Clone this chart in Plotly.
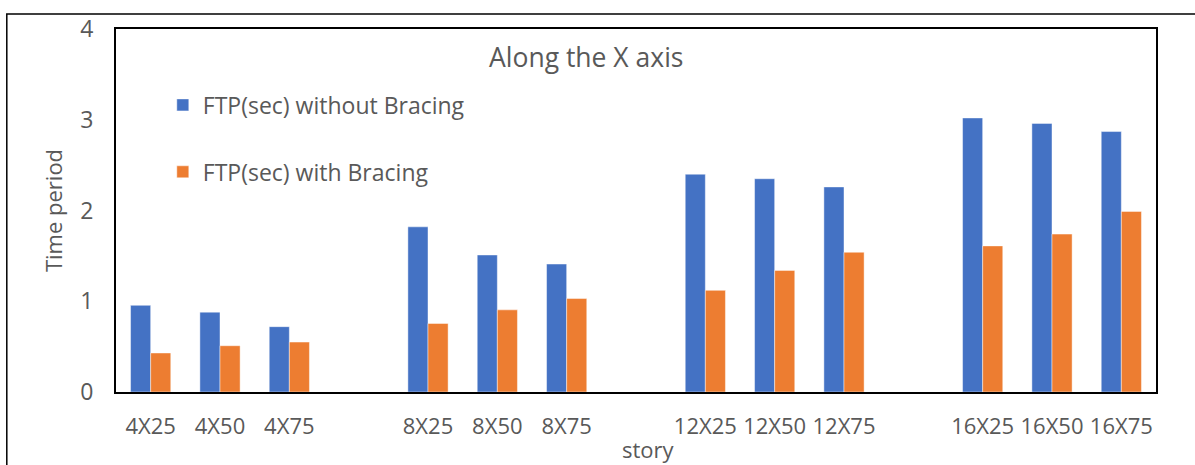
import plotly.graph_objects as go

# Fundamental time period (sec) for each building model
stories = ["4X25", "4X50", "4X75",
           "8X25", "8X50", "8X75",
           "12X25", "12X50", "12X75",
           "16X25", "16X50", "16X75"]
ftp_without = [0.955, 0.88, 0.72, 1.82, 1.51, 1.41, 2.40, 2.35, 2.26, 3.02, 2.96, 2.87]
ftp_with = [0.43, 0.51, 0.55, 0.755, 0.905, 1.03, 1.12, 1.34, 1.54, 1.61, 1.74, 1.99]

# Insert an empty slot between each group of three models
x_cats, y_without, y_with = [], [], []
for i, (s, a, b) in enumerate(zip(stories, ftp_without, ftp_with)):
    if i > 0 and i % 3 == 0:
        gap = " " * (i // 3)
        x_cats.append(gap)
        y_without.append(None)
        y_with.append(None)
    x_cats.append(s)
    y_without.append(a)
    y_with.append(b)

FONT = "Open Sans"
GREY = "#595959"

fig = go.Figure()
fig.add_trace(go.Bar(
    x=x_cats, y=y_without, name="FTP(sec) without Bracing",
    marker=dict(color="#4472C4", line=dict(color="rgba(255,255,255,0.45)", width=1)),
    legendgroup="a",
))
fig.add_trace(go.Bar(
    x=x_cats, y=y_with, name="FTP(sec) with Bracing",
    marker=dict(color="#ED7D31", line=dict(color="rgba(255,255,255,0.45)", width=1)),
    legendgroup="b",
))

fig.update_layout(
    width=1195, height=465,
    margin=dict(l=116, r=39, t=27, b=73),
    paper_bgcolor="white", plot_bgcolor="white",
    barmode="group", bargap=0.42, bargroupgap=0,
    font=dict(family=FONT, color=GREY, size=22),
    showlegend=True,
    legend=dict(
        x=0.045, y=0.85, xanchor="left", yanchor="top",
        bgcolor="rgba(0,0,0,0)", font=dict(size=23, color=GREY),
        tracegroupgap=34, itemwidth=30,
    ),
    xaxis=dict(
        type="category", categoryorder="array", categoryarray=x_cats,
        showline=True, linecolor="black", linewidth=2, mirror=True,
        showgrid=False, ticks="", ticklabelstandoff=14,
        tickfont=dict(size=22, color=GREY),
    ),
    yaxis=dict(
        range=[0, 4], dtick=1, tick0=0,
        showline=True, linecolor="black", linewidth=2, mirror=True,
        showgrid=False, zeroline=False, ticks="", ticklabelstandoff=16,
        tickfont=dict(size=23, color=GREY),
        title=dict(text="Time period", font=dict(size=22, color=GREY), standoff=12),
    ),
    annotations=[
        dict(text="Along the X axis", xref="paper", yref="paper",
             x=0.452, y=0.923, xanchor="center", yanchor="middle",
             showarrow=False, font=dict(size=26.5, color=GREY)),
        dict(text="story", xref="paper", yref="paper",
             x=0.512, y=-0.157, xanchor="center", yanchor="middle",
             showarrow=False, font=dict(size=22, color=GREY)),
    ],
    shapes=[
        # outer chart border
        dict(type="rect", xref="paper", yref="paper",
             x0=-0.105, x1=1.2, y0=-0.5, y1=1.041,
             line=dict(color="black", width=1.5), layer="below"),
    ],
)

fig.write_html("out.html")
